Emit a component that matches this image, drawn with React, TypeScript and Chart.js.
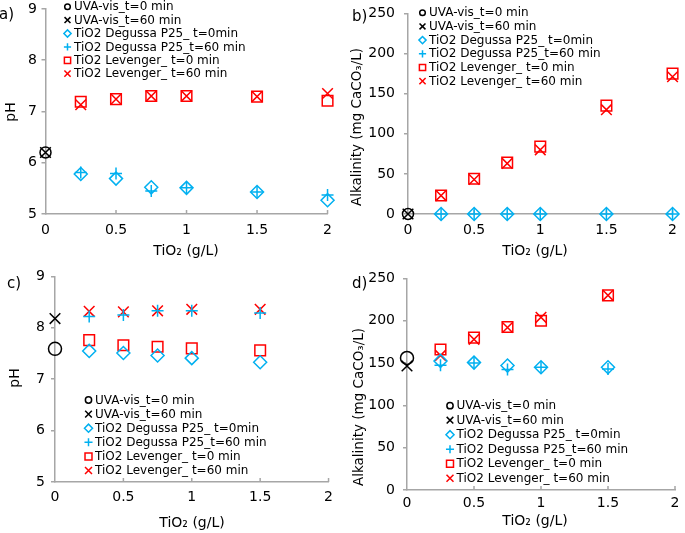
import React, { useEffect, useRef } from 'react';
import { Chart, registerables } from 'chart.js';
import { drawPoint } from 'chart.js/helpers';

Chart.register(...registerables);

// ---------------- DATA ----------------
const doseAB = [0.25, 0.5, 0.75, 1, 1.5, 2];
const doseCD = [0.25, 0.5, 0.75, 1, 1.5];
const xTickValues = [0, 0.5, 1, 1.5, 2];
const pHTickValues = [5, 6, 7, 8, 9];
const alkTickValues = [0, 50, 100, 150, 200, 250];

const legendLabels = [
  'UVA-vis_t=0 min',
  'UVA-vis_t=60 min',
  'TiO2 Degussa P25_ t=0min',
  'TiO2 Degussa P25_t=60 min',
  'TiO2 Levenger_ t=0 min',
  'TiO2 Levenger_ t=60 min',
];

// panel a) pH
const uvaT0_a = 6.2;
const uvaT60_a = 6.2;
const degT0_a = [5.78, 5.69, 5.52, 5.51, 5.43, 5.27];
const degT60_a = [5.81, 5.79, 5.45, 5.51, 5.43, 5.37];
const levT0_a = [7.19, 7.24, 7.3, 7.3, 7.29, 7.21];
const levT60_a = [7.13, 7.24, 7.3, 7.3, 7.29, 7.35];

// panel b) alkalinity
const uvaT0_b = 0;
const uvaT60_b = 0;
const degT0_b = [0, 0, 0, 0, 0, 0];
const degT60_b = [0, 0, 0, 0, 0, 0];
const levT0_b = [23, 44, 64, 84, 135, 175];
const levT60_b = [23, 43, 63, 80, 130, 171];

// panel c) pH
const uvaT0_c = 7.59;
const uvaT60_c = 8.18;
const degT0_c = [7.55, 7.51, 7.46, 7.41, 7.33];
const degT60_c = [8.22, 8.25, 8.33, 8.33, 8.29];
const levT0_c = [7.76, 7.66, 7.63, 7.6, 7.56];
const levT60_c = [8.32, 8.31, 8.33, 8.36, 8.36];

// panel d) alkalinity
const uvaT0_d = 156;
const uvaT60_d = 146.5;
const degT0_d = [152.5, 150.5, 147, 145, 145];
const degT60_d = [147.5, 150, 142.5, 145, 143];
const levT0_d = [166, 180, 192.5, 200, 230];
const levT60_d = [159, 178, 192, 204, 230];

// ---------------- STYLE ----------------
const FONT = "'DejaVu Sans', sans-serif";
const BLUE = '#00B0F0';
const RED = '#FF0000';
const BLACK = '#000000';
const AXIS = '#A6A6A6';

const styles = [
  { style: 'circle', color: BLACK, r: 5.5 },
  { style: 'crossRot', color: BLACK, r: 7.5 },
  { style: 'rectRot', color: BLUE, r: 6.5 },
  { style: 'cross', color: BLUE, r: 6 },
  { style: 'rect', color: RED, r: 7.5 },
  { style: 'crossRot', color: RED, r: 7.5 },
];
const legendStyles = [
  { style: 'circle', color: BLACK, r: 2.8 },
  { style: 'crossRot', color: BLACK, r: 4.2 },
  { style: 'rectRot', color: BLUE, r: 3.6 },
  { style: 'cross', color: BLUE, r: 3.6 },
  { style: 'rect', color: RED, r: 4.4 },
  { style: 'crossRot', color: RED, r: 4.4 },
];

function pts(xs: number[], ys: number[]) {
  return xs.map((x, i) => ({ x, y: ys[i] }));
}

type Panel = {
  id: string;
  left: number; top: number; w: number; h: number;
  area: { l: number; r: number; t: number; b: number };
  yMin: number; yMax: number; yTicks: number[];
  yTickPad: number; xTickPad: number;
  series: { x: number; y: number }[][];
  legend: { mx: number; tx: number; y0: number; dy: number; scale: number };
  texts: { text: string; x: number; y: number; rot?: number; size: number; align?: CanvasTextAlign }[];
  uvaR: number;
};

const panels: Panel[] = [
  {
    id: 'a', left: 0, top: -4, w: 340, h: 268,
    area: { l: 45.5, r: 331, t: 6, b: 214 },
    yMin: 5, yMax: 9, yTicks: pHTickValues, yTickPad: 4.5, xTickPad: 8,
    series: [
      [{ x: 0, y: uvaT0_a }], [{ x: 0, y: uvaT60_a }],
      pts(doseAB, degT0_a), pts(doseAB, degT60_a), pts(doseAB, levT0_a), pts(doseAB, levT60_a),
    ],
    legend: { mx: 67.5, tx: 74, y0: 6.7, dy: 13.4, scale: 1 },
    texts: [
      { text: 'a)', x: -1, y: 15, size: 15, align: 'left' },
      { text: 'pH', x: 11, y: 112, rot: -Math.PI / 2, size: 14 },
      { text: 'TiO\u2082 (g/L)', x: 186, y: 251, size: 14 },
    ],
    uvaR: 5.5,
  },
  {
    id: 'b', left: 340, top: -4, w: 345, h: 268,
    area: { l: 408, r: 678, t: 6, b: 214 },
    yMin: 0, yMax: 250, yTicks: alkTickValues, yTickPad: 9, xTickPad: 8,
    series: [
      [{ x: 0, y: uvaT0_b }], [{ x: 0, y: uvaT60_b }],
      pts(doseAB, degT0_b), pts(doseAB, degT60_b), pts(doseAB, levT0_b), pts(doseAB, levT60_b),
    ],
    legend: { mx: 422.5, tx: 429, y0: 12.7, dy: 13.7, scale: 1 },
    texts: [
      { text: 'b)', x: 352, y: 17, size: 15, align: 'left' },
      { text: 'Alkalinity (mg CaCO\u2083/L)', x: 357, y: 127, rot: -Math.PI / 2, size: 13.5 },
      { text: 'TiO\u2082 (g/L)', x: 535, y: 251, size: 14 },
    ],
    uvaR: 5.5,
  },
  {
    id: 'c', left: 0, top: 262, w: 340, h: 271,
    area: { l: 55, r: 331, t: 273, b: 482 },
    yMin: 5, yMax: 9, yTicks: pHTickValues, yTickPad: 6, xTickPad: 7,
    series: [
      [{ x: 0, y: uvaT0_c }], [{ x: 0, y: uvaT60_c }],
      pts(doseCD, degT0_c), pts(doseCD, degT60_c), pts(doseCD, levT0_c), pts(doseCD, levT60_c),
    ],
    legend: { mx: 88.5, tx: 95, y0: 400, dy: 14.1, scale: 1.12 },
    texts: [
      { text: 'c)', x: 7, y: 284, size: 15, align: 'left' },
      { text: 'pH', x: 15, y: 378, rot: -Math.PI / 2, size: 14 },
      { text: 'TiO\u2082 (g/L)', x: 192, y: 523, size: 14 },
    ],
    uvaR: 6.5,
  },
  {
    id: 'd', left: 340, top: 262, w: 345, h: 271,
    area: { l: 407, r: 675, t: 273, b: 490 },
    yMin: 0, yMax: 250, yTicks: alkTickValues, yTickPad: 8, xTickPad: 5,
    series: [
      [{ x: 0, y: uvaT0_d }], [{ x: 0, y: uvaT60_d }],
      pts(doseCD, degT0_d), pts(doseCD, degT60_d), pts(doseCD, levT0_d), pts(doseCD, levT60_d),
    ],
    legend: { mx: 450, tx: 456.5, y0: 405.7, dy: 14.5, scale: 1.12 },
    texts: [
      { text: 'd)', x: 352, y: 284, size: 15, align: 'left' },
      { text: 'Alkalinity (mg CaCO\u2083/L)', x: 359, y: 407, rot: -Math.PI / 2, size: 13.5 },
      { text: 'TiO\u2082 (g/L)', x: 535, y: 521, size: 14 },
    ],
    uvaR: 6.5,
  },
];

function PanelChart({ p }: { p: Panel }) {
  const ref = useRef<HTMLCanvasElement | null>(null);
  useEffect(() => {
    if (!ref.current) return;
    const ox = p.left;
    const oy = p.top;

    const textPlugin = {
      id: 'pageTexts_' + p.id,
      afterDraw(chart: any) {
        const ctx = chart.ctx as CanvasRenderingContext2D;
        for (const t of p.texts) {
          ctx.save();
          ctx.font = `${t.size}px ${FONT}`;
          ctx.fillStyle = BLACK;
          ctx.textAlign = t.align || 'center';
          ctx.textBaseline = 'middle';
          ctx.translate(t.x - ox, t.y - oy);
          if (t.rot) ctx.rotate(t.rot);
          ctx.fillText(t.text, 0, 0);
          ctx.restore();
        }
      },
    };

    const legendPlugin = {
      id: 'boxLegend_' + p.id,
      afterDraw(chart: any) {
        const ctx = chart.ctx as CanvasRenderingContext2D;
        const L = p.legend;
        legendLabels.forEach((label, i) => {
          const y = L.y0 + i * L.dy - oy;
          const st = legendStyles[i];
          ctx.save();
          ctx.strokeStyle = st.color;
          ctx.fillStyle = 'rgba(0,0,0,0)';
          ctx.lineWidth = 1.5;
          drawPoint(ctx, { pointStyle: st.style as any, rotation: 0, radius: st.r * L.scale, borderWidth: 1.5 } as any, L.mx - ox, y);
          ctx.restore();
          ctx.save();
          ctx.font = `12px ${FONT}`;
          ctx.fillStyle = BLACK;
          ctx.textAlign = 'left';
          ctx.textBaseline = 'middle';
          ctx.fillText(label, L.tx - ox, y + 0.5);
          ctx.restore();
        });
      },
    };

    const innerTicks = {
      id: 'innerTicks_' + p.id,
      beforeDatasetsDraw(chart: any) {
        const ctx = chart.ctx as CanvasRenderingContext2D;
        const xs = chart.scales.x;
        const bottom = chart.chartArea.bottom;
        ctx.save();
        ctx.strokeStyle = AXIS;
        ctx.lineWidth = 1.5;
        for (const v of xTickValues) {
          if (v === 0) continue;
          const px = xs.getPixelForValue(v);
          ctx.beginPath();
          ctx.moveTo(px, bottom);
          ctx.lineTo(px, bottom - 4);
          ctx.stroke();
        }
        ctx.restore();
      },
    };

    const datasets = p.series.map((data, i) => {
      const st = styles[i];
      const r = i === 0 ? p.uvaR : st.r;
      return {
        label: legendLabels[i],
        data,
        showLine: false,
        pointStyle: st.style,
        pointRadius: r,
        pointHoverRadius: r,
        pointBorderColor: st.color,
        pointBackgroundColor: 'rgba(0,0,0,0)',
        borderColor: st.color,
        backgroundColor: 'rgba(0,0,0,0)',
        pointBorderWidth: 1.5,
        clip: false as any,
      };
    });

    const chart = new Chart(ref.current, {
      type: 'scatter',
      data: { datasets: datasets as any },
      options: {
        animation: false,
        responsive: false,
        maintainAspectRatio: false,
        devicePixelRatio: 1,
        events: [],
        layout: {
          padding: {
            left: 0,
            top: p.area.t - oy,
            right: ox + p.w - p.area.r,
            bottom: 0,
          },
        },
        plugins: {
          legend: { display: false },
          tooltip: { enabled: false },
          title: { display: false },
        },
        scales: {
          x: {
            type: 'linear',
            min: 0,
            max: 2,
            afterBuildTicks: (s: any) => {
              s.ticks = xTickValues.map((v) => ({ value: v }));
            },
            afterFit: (s: any) => {
              s.height = oy + p.h - p.area.b;
            },
            ticks: {
              font: { family: FONT, size: 14 },
              color: BLACK,
              padding: p.xTickPad,
              maxRotation: 0,
              autoSkip: false,
              callback: (v: any) => String(v),
            },
            grid: { display: false, drawTicks: false },
            border: { display: true, color: AXIS, width: 1.5 },
            title: { display: false },
          },
          y: {
            type: 'linear',
            min: p.yMin,
            max: p.yMax,
            afterBuildTicks: (s: any) => {
              s.ticks = p.yTicks.map((v) => ({ value: v }));
            },
            afterFit: (s: any) => {
              s.width = p.area.l - ox;
            },
            ticks: {
              font: { family: FONT, size: 14 },
              color: BLACK,
              padding: p.yTickPad,
              autoSkip: false,
              callback: (v: any) => String(v),
            },
            grid: {
              display: true,
              drawOnChartArea: false,
              drawTicks: true,
              tickLength: 4,
              color: AXIS,
              lineWidth: 1.5,
            },
            border: { display: true, color: AXIS, width: 1.5 },
            title: { display: false },
          },
        },
      } as any,
      plugins: [innerTicks, legendPlugin, textPlugin],
    });
    return () => chart.destroy();
  }, [p]);

  return (
    <canvas
      ref={ref}
      width={p.w}
      height={p.h}
      style={{ position: 'absolute', left: p.left, top: p.top, width: p.w, height: p.h }}
    />
  );
}

export default function App() {
  return (
    <div
      style={{
        position: 'absolute',
        left: 0,
        top: 0,
        width: 685,
        height: 533,
        overflow: 'hidden',
        background: '#ffffff',
      }}
    >
      {panels.map((p) => (
        <PanelChart key={p.id} p={p} />
      ))}
    </div>
  );
}
